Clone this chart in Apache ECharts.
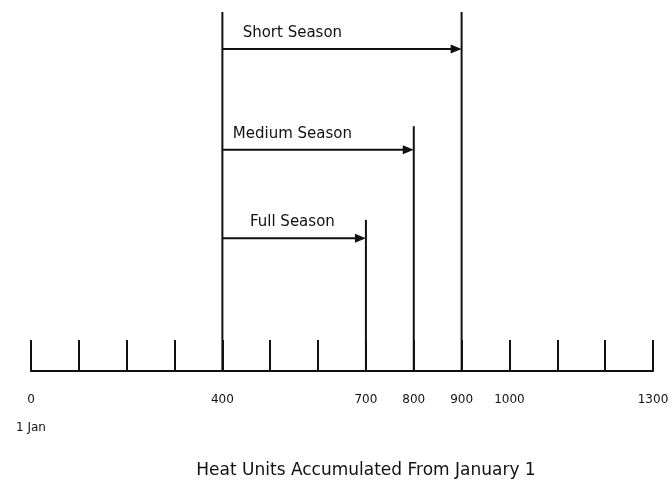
<!DOCTYPE html>
<html>
<head>
<meta charset="utf-8">
<script src="https://cdn.jsdelivr.net/npm/echarts@6/dist/echarts.min.js"></script>
<style>html,body{margin:0;padding:0;background:#fff}#c{width:672px;height:483px}</style>
</head>
<body>
<div id="c"></div>
<script>
// Data
const tickLabels = [0, 400, 700, 800, 900, 1000, 1300];
const markerValues = [400, 700, 800, 900];
const markerTops = [100, 42.1, 68.2, 100];
const seasonNames = ['Short Season', 'Medium Season', 'Full Season'];
const seasonStarts = [400, 400, 400];
const seasonEnds = [900, 800, 700];
const seasonLevels = [89.7, 61.6, 37.0];

const INK = '#111111';
const chart = echarts.init(document.getElementById('c'));

const markerData = markerValues.map((v, i) => [v, markerTops[i]]);
const seasonData = seasonNames.map((n, i) => [seasonStarts[i], seasonEnds[i], seasonLevels[i], n]);

chart.setOption({
  animation: false,
  backgroundColor: '#fff',
  title: {
    text: 'Heat Units Accumulated From January 1',
    left: 361, top: 457, textAlign: 'center',
    textStyle: { fontFamily: 'DejaVu Sans', fontSize: 17, fontWeight: 'normal', color: INK }
  },
  grid: { left: 31, right: 19, top: 12, bottom: 112 },
  xAxis: {
    type: 'value', min: 0, max: 1300, interval: 100,
    axisLine: { show: true, onZero: false, lineStyle: { color: INK, width: 2 } },
    axisTick: { show: true, inside: true, length: 31, lineStyle: { color: INK, width: 2 } },
    splitLine: { show: false },
    axisLabel: {
      margin: 15, hideOverlap: false, showMaxLabel: true, showMinLabel: true,
      fontFamily: 'DejaVu Sans', fontSize: 12, color: INK, lineHeight: 28,
      formatter: v => v === 0 ? '0\n1 Jan' : (tickLabels.includes(v) ? String(v) : '')
    }
  },
  yAxis: { type: 'value', min: 0, max: 100, show: false },
  series: [
    {
      type: 'custom',
      data: markerData,
      renderItem: (params, api) => {
        const p0 = api.coord([api.value(0), 0]);
        const p1 = api.coord([api.value(0), api.value(1)]);
        return { type: 'line', shape: { x1: p0[0], y1: p0[1], x2: p1[0], y2: p1[1] },
                 style: { stroke: INK, lineWidth: 2 } };
      }
    },
    {
      type: 'custom',
      data: seasonData,
      renderItem: (params, api) => {
        const a = api.coord([api.value(0), api.value(2)]);
        const b = api.coord([api.value(1), api.value(2)]);
        const name = seasonNames[params.dataIndex];
        const L = 11, H = 4.5;
        return {
          type: 'group',
          children: [
            { type: 'line', shape: { x1: a[0], y1: a[1], x2: b[0] - L + 1, y2: b[1] },
              style: { stroke: INK, lineWidth: 2 } },
            { type: 'polygon', shape: { points: [[b[0], b[1]], [b[0] - L, b[1] - H], [b[0] - L, b[1] + H]] },
              style: { fill: INK } },
            { type: 'text', x: a[0] + 70, y: a[1] - 16,
              style: { text: name, fontFamily: 'DejaVu Sans', fontSize: 15, fill: INK,
                       align: 'center', verticalAlign: 'middle' } }
          ]
        };
      }
    }
  ]
});
</script>
</body>
</html>
